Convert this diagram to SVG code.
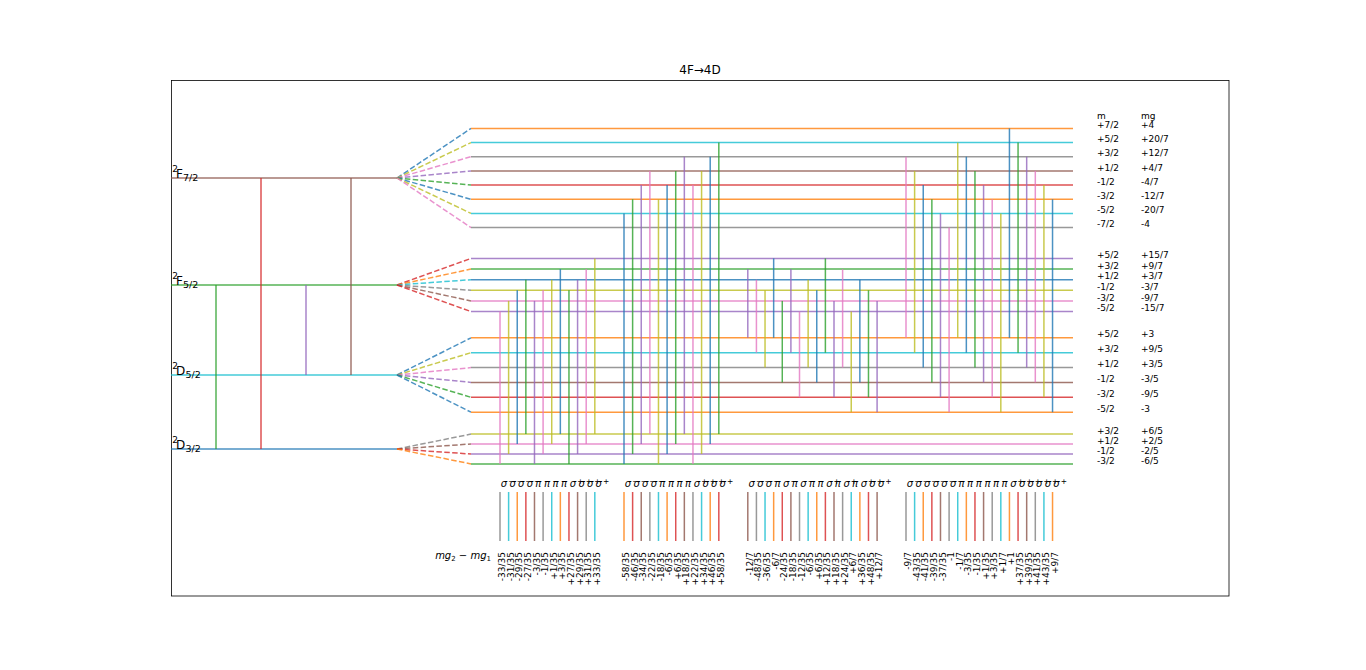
<svg xmlns="http://www.w3.org/2000/svg" width="1366" height="670" viewBox="0 0 1366 670">
<style>
text{font-family:"DejaVu Sans","Liberation Sans",sans-serif;fill:#000}
.t{font-size:12px}
.lab{font-size:9px}
.big{font-size:12px}
.sm{font-size:9px}
.sl{font-size:10px;font-style:italic}
.sup{font-size:7.5px;font-style:normal}
.num{font-size:9px;text-anchor:end}
line{stroke-width:1.5;stroke-opacity:0.8;fill:none}
.d{stroke-dasharray:5.5 2.4}
.c0{stroke:#1f77b4}.c1{stroke:#ff7f0e}.c2{stroke:#2ca02c}.c3{stroke:#d62728}.c4{stroke:#9467bd}
.c5{stroke:#8c564b}.c6{stroke:#e377c2}.c7{stroke:#7f7f7f}.c8{stroke:#bcbd22}.c9{stroke:#17becf}
</style>
<rect x="0" y="0" width="1366" height="670" fill="#fff"/>
<text class="t" x="700" y="74.4" text-anchor="middle">4F→4D</text>
<rect x="171.5" y="80.5" width="1057.5" height="515.5" fill="none" stroke="#000" stroke-width="0.8"/>

<g id="level-F72">
<line class="c5" x1="171" y1="178" x2="397" y2="178"/>
<text class="sm" x="172.3" y="172">2</text><text class="big" x="176" y="178">F</text><text class="sm" x="183" y="180.5" style="font-size:9.5px">7/2</text>
<line class="c0 d" x1="397" y1="178" x2="471" y2="128.4"/>
<line class="c8 d" x1="397" y1="178" x2="471" y2="142.6"/>
<line class="c6 d" x1="397" y1="178" x2="471" y2="156.7"/>
<line class="c4 d" x1="397" y1="178" x2="471" y2="170.9"/>
<line class="c2 d" x1="397" y1="178" x2="471" y2="185.1"/>
<line class="c0 d" x1="397" y1="178" x2="471" y2="199.3"/>
<line class="c8 d" x1="397" y1="178" x2="471" y2="213.4"/>
<line class="c6 d" x1="397" y1="178" x2="471" y2="227.6"/>
<line class="c1" x1="471" y1="128.4" x2="1073" y2="128.4"/>
<line class="c9" x1="471" y1="142.6" x2="1073" y2="142.6"/>
<line class="c7" x1="471" y1="156.7" x2="1073" y2="156.7"/>
<line class="c5" x1="471" y1="170.9" x2="1073" y2="170.9"/>
<line class="c3" x1="471" y1="185.1" x2="1073" y2="185.1"/>
<line class="c1" x1="471" y1="199.3" x2="1073" y2="199.3"/>
<line class="c9" x1="471" y1="213.4" x2="1073" y2="213.4"/>
<line class="c7" x1="471" y1="227.6" x2="1073" y2="227.6"/>
<g class="lab">
<text x="1097" y="119">m</text><text x="1141" y="119">mg</text>
<text x="1097" y="128">+7/2</text><text x="1141" y="128">+4</text>
<text x="1097" y="142.2">+5/2</text><text x="1141" y="142.2">+20/7</text>
<text x="1097" y="156.3">+3/2</text><text x="1141" y="156.3">+12/7</text>
<text x="1097" y="170.5">+1/2</text><text x="1141" y="170.5">+4/7</text>
<text x="1097" y="184.7">-1/2</text><text x="1141" y="184.7">-4/7</text>
<text x="1097" y="198.9">-3/2</text><text x="1141" y="198.9">-12/7</text>
<text x="1097" y="213">-5/2</text><text x="1141" y="213">-20/7</text>
<text x="1097" y="227.2">-7/2</text><text x="1141" y="227.2">-4</text>
</g>
</g>

<g id="level-F52">
<line class="c2" x1="171" y1="285" x2="397" y2="285"/>
<text class="sm" x="172.3" y="279">2</text><text class="big" x="176" y="285">F</text><text class="sm" x="183" y="287.5" style="font-size:9.5px">5/2</text>
<line class="c3 d" x1="397" y1="285" x2="471" y2="258.4"/>
<line class="c1 d" x1="397" y1="285" x2="471" y2="269.1"/>
<line class="c9 d" x1="397" y1="285" x2="471" y2="279.7"/>
<line class="c7 d" x1="397" y1="285" x2="471" y2="290.3"/>
<line class="c5 d" x1="397" y1="285" x2="471" y2="300.9"/>
<line class="c3 d" x1="397" y1="285" x2="471" y2="311.6"/>
<line class="c4" x1="471" y1="258.4" x2="1073" y2="258.4"/>
<line class="c2" x1="471" y1="269.1" x2="1073" y2="269.1"/>
<line class="c0" x1="471" y1="279.7" x2="1073" y2="279.7"/>
<line class="c8" x1="471" y1="290.3" x2="1073" y2="290.3"/>
<line class="c6" x1="471" y1="300.9" x2="1073" y2="300.9"/>
<line class="c4" x1="471" y1="311.6" x2="1073" y2="311.6"/>
<g class="lab">
<text x="1097" y="258">+5/2</text><text x="1141" y="258">+15/7</text>
<text x="1097" y="268.7">+3/2</text><text x="1141" y="268.7">+9/7</text>
<text x="1097" y="279.3">+1/2</text><text x="1141" y="279.3">+3/7</text>
<text x="1097" y="289.9">-1/2</text><text x="1141" y="289.9">-3/7</text>
<text x="1097" y="300.5">-3/2</text><text x="1141" y="300.5">-9/7</text>
<text x="1097" y="311.2">-5/2</text><text x="1141" y="311.2">-15/7</text>
</g>
</g>

<g id="level-D52">
<line class="c9" x1="171" y1="375" x2="397" y2="375"/>
<text class="sm" x="172.3" y="369">2</text><text class="big" x="176" y="375">D</text><text class="sm" x="185.5" y="377.5" style="font-size:9.5px">5/2</text>
<line class="c0 d" x1="397" y1="375" x2="471" y2="337.8"/>
<line class="c8 d" x1="397" y1="375" x2="471" y2="352.7"/>
<line class="c6 d" x1="397" y1="375" x2="471" y2="367.6"/>
<line class="c4 d" x1="397" y1="375" x2="471" y2="382.4"/>
<line class="c2 d" x1="397" y1="375" x2="471" y2="397.3"/>
<line class="c0 d" x1="397" y1="375" x2="471" y2="412.2"/>
<line class="c1" x1="471" y1="337.8" x2="1073" y2="337.8"/>
<line class="c9" x1="471" y1="352.7" x2="1073" y2="352.7"/>
<line class="c7" x1="471" y1="367.6" x2="1073" y2="367.6"/>
<line class="c5" x1="471" y1="382.4" x2="1073" y2="382.4"/>
<line class="c3" x1="471" y1="397.3" x2="1073" y2="397.3"/>
<line class="c1" x1="471" y1="412.2" x2="1073" y2="412.2"/>
<g class="lab">
<text x="1097" y="337.4">+5/2</text><text x="1141" y="337.4">+3</text>
<text x="1097" y="352.3">+3/2</text><text x="1141" y="352.3">+9/5</text>
<text x="1097" y="367.2">+1/2</text><text x="1141" y="367.2">+3/5</text>
<text x="1097" y="382">-1/2</text><text x="1141" y="382">-3/5</text>
<text x="1097" y="396.9">-3/2</text><text x="1141" y="396.9">-9/5</text>
<text x="1097" y="411.8">-5/2</text><text x="1141" y="411.8">-3</text>
</g>
</g>

<g id="level-D32">
<line class="c0" x1="171" y1="449" x2="397" y2="449"/>
<text class="sm" x="172.3" y="443">2</text><text class="big" x="176" y="449">D</text><text class="sm" x="185.5" y="451.5" style="font-size:9.5px">3/2</text>
<line class="c7 d" x1="397" y1="449" x2="471" y2="434.1"/>
<line class="c5 d" x1="397" y1="449" x2="471" y2="444"/>
<line class="c3 d" x1="397" y1="449" x2="471" y2="454"/>
<line class="c1 d" x1="397" y1="449" x2="471" y2="463.9"/>
<line class="c8" x1="471" y1="434.1" x2="1073" y2="434.1"/>
<line class="c6" x1="471" y1="444" x2="1073" y2="444"/>
<line class="c4" x1="471" y1="454" x2="1073" y2="454"/>
<line class="c2" x1="471" y1="463.9" x2="1073" y2="463.9"/>
<g class="lab">
<text x="1097" y="433.7">+3/2</text><text x="1141" y="433.7">+6/5</text>
<text x="1097" y="443.6">+1/2</text><text x="1141" y="443.6">+2/5</text>
<text x="1097" y="453.6">-1/2</text><text x="1141" y="453.6">-2/5</text>
<text x="1097" y="463.5">-3/2</text><text x="1141" y="463.5">-6/5</text>
</g>
</g>

<g id="connectors">
<g id="fine-transitions-left">
<line class="c2" x1="216" y1="285" x2="216" y2="449"/>
<line class="c3" x1="261" y1="178" x2="261" y2="449"/>
<line class="c4" x1="306" y1="285" x2="306" y2="375"/>
<line class="c5" x1="351" y1="178" x2="351" y2="375"/>
</g>
<g id="group1">
<line class="c6" x1="500" y1="311.6" x2="500" y2="463.9"/>
<line class="c8" x1="508.62" y1="300.9" x2="508.62" y2="454"/>
<line class="c0" x1="517.24" y1="290.3" x2="517.24" y2="444"/>
<line class="c2" x1="525.86" y1="279.7" x2="525.86" y2="434.1"/>
<line class="c4" x1="534.48" y1="300.9" x2="534.48" y2="463.9"/>
<line class="c6" x1="543.1" y1="290.3" x2="543.1" y2="454"/>
<line class="c8" x1="551.72" y1="279.7" x2="551.72" y2="444"/>
<line class="c0" x1="560.34" y1="269.1" x2="560.34" y2="434.1"/>
<line class="c2" x1="568.96" y1="290.3" x2="568.96" y2="463.9"/>
<line class="c4" x1="577.58" y1="279.7" x2="577.58" y2="454"/>
<line class="c6" x1="586.2" y1="269.1" x2="586.2" y2="444"/>
<line class="c8" x1="594.82" y1="258.4" x2="594.82" y2="434.1"/>
</g>
<g id="group2">
<line class="c0" x1="624" y1="213.4" x2="624" y2="463.9"/>
<line class="c2" x1="632.62" y1="199.3" x2="632.62" y2="454"/>
<line class="c4" x1="641.24" y1="185.1" x2="641.24" y2="444"/>
<line class="c6" x1="649.86" y1="170.9" x2="649.86" y2="434.1"/>
<line class="c8" x1="658.48" y1="199.3" x2="658.48" y2="463.9"/>
<line class="c0" x1="667.1" y1="185.1" x2="667.1" y2="454"/>
<line class="c2" x1="675.72" y1="170.9" x2="675.72" y2="444"/>
<line class="c4" x1="684.34" y1="156.7" x2="684.34" y2="434.1"/>
<line class="c6" x1="692.96" y1="185.1" x2="692.96" y2="463.9"/>
<line class="c8" x1="701.58" y1="170.9" x2="701.58" y2="454"/>
<line class="c0" x1="710.2" y1="156.7" x2="710.2" y2="444"/>
<line class="c2" x1="718.82" y1="142.6" x2="718.82" y2="434.1"/>
</g>
<g id="group3">
<line class="c4" x1="747.8" y1="269.1" x2="747.8" y2="337.8"/>
<line class="c6" x1="756.42" y1="279.7" x2="756.42" y2="352.7"/>
<line class="c8" x1="765.04" y1="290.3" x2="765.04" y2="367.6"/>
<line class="c0" x1="773.66" y1="258.4" x2="773.66" y2="337.8"/>
<line class="c2" x1="782.28" y1="300.9" x2="782.28" y2="382.4"/>
<line class="c4" x1="790.9" y1="269.1" x2="790.9" y2="352.7"/>
<line class="c6" x1="799.52" y1="311.6" x2="799.52" y2="397.3"/>
<line class="c8" x1="808.14" y1="279.7" x2="808.14" y2="367.6"/>
<line class="c0" x1="816.76" y1="290.3" x2="816.76" y2="382.4"/>
<line class="c2" x1="825.38" y1="258.4" x2="825.38" y2="352.7"/>
<line class="c4" x1="834" y1="300.9" x2="834" y2="397.3"/>
<line class="c6" x1="842.62" y1="269.1" x2="842.62" y2="367.6"/>
<line class="c8" x1="851.24" y1="311.6" x2="851.24" y2="412.2"/>
<line class="c0" x1="859.86" y1="279.7" x2="859.86" y2="382.4"/>
<line class="c2" x1="868.48" y1="290.3" x2="868.48" y2="397.3"/>
<line class="c4" x1="877.1" y1="300.9" x2="877.1" y2="412.2"/>
</g>
<g id="group4">
<line class="c6" x1="906" y1="156.7" x2="906" y2="337.8"/>
<line class="c8" x1="914.62" y1="170.9" x2="914.62" y2="352.7"/>
<line class="c0" x1="923.24" y1="185.1" x2="923.24" y2="367.6"/>
<line class="c2" x1="931.86" y1="199.3" x2="931.86" y2="382.4"/>
<line class="c4" x1="940.48" y1="213.4" x2="940.48" y2="397.3"/>
<line class="c6" x1="949.1" y1="227.6" x2="949.1" y2="412.2"/>
<line class="c8" x1="957.72" y1="142.6" x2="957.72" y2="337.8"/>
<line class="c0" x1="966.34" y1="156.7" x2="966.34" y2="352.7"/>
<line class="c2" x1="974.96" y1="170.9" x2="974.96" y2="367.6"/>
<line class="c4" x1="983.58" y1="185.1" x2="983.58" y2="382.4"/>
<line class="c6" x1="992.2" y1="199.3" x2="992.2" y2="397.3"/>
<line class="c8" x1="1000.82" y1="213.4" x2="1000.82" y2="412.2"/>
<line class="c0" x1="1009.44" y1="128.4" x2="1009.44" y2="337.8"/>
<line class="c2" x1="1018.06" y1="142.6" x2="1018.06" y2="352.7"/>
<line class="c4" x1="1026.68" y1="156.7" x2="1026.68" y2="367.6"/>
<line class="c6" x1="1035.3" y1="170.9" x2="1035.3" y2="382.4"/>
<line class="c8" x1="1043.92" y1="185.1" x2="1043.92" y2="397.3"/>
<line class="c0" x1="1052.54" y1="199.3" x2="1052.54" y2="412.2"/>
</g>
</g>

<g id="spectrum-ticks">
<line class="c7" x1="500" y1="492" x2="500" y2="541"/>
<line class="c9" x1="508.62" y1="492" x2="508.62" y2="541"/>
<line class="c1" x1="517.24" y1="492" x2="517.24" y2="541"/>
<line class="c3" x1="525.86" y1="492" x2="525.86" y2="541"/>
<line class="c5" x1="534.48" y1="492" x2="534.48" y2="541"/>
<line class="c7" x1="543.1" y1="492" x2="543.1" y2="541"/>
<line class="c9" x1="551.72" y1="492" x2="551.72" y2="541"/>
<line class="c1" x1="560.34" y1="492" x2="560.34" y2="541"/>
<line class="c3" x1="568.96" y1="492" x2="568.96" y2="541"/>
<line class="c5" x1="577.58" y1="492" x2="577.58" y2="541"/>
<line class="c7" x1="586.2" y1="492" x2="586.2" y2="541"/>
<line class="c9" x1="594.82" y1="492" x2="594.82" y2="541"/>
<line class="c1" x1="624" y1="492" x2="624" y2="541"/>
<line class="c3" x1="632.62" y1="492" x2="632.62" y2="541"/>
<line class="c5" x1="641.24" y1="492" x2="641.24" y2="541"/>
<line class="c7" x1="649.86" y1="492" x2="649.86" y2="541"/>
<line class="c9" x1="658.48" y1="492" x2="658.48" y2="541"/>
<line class="c1" x1="667.1" y1="492" x2="667.1" y2="541"/>
<line class="c3" x1="675.72" y1="492" x2="675.72" y2="541"/>
<line class="c5" x1="684.34" y1="492" x2="684.34" y2="541"/>
<line class="c7" x1="692.96" y1="492" x2="692.96" y2="541"/>
<line class="c9" x1="701.58" y1="492" x2="701.58" y2="541"/>
<line class="c1" x1="710.2" y1="492" x2="710.2" y2="541"/>
<line class="c3" x1="718.82" y1="492" x2="718.82" y2="541"/>
<line class="c5" x1="747.8" y1="492" x2="747.8" y2="541"/>
<line class="c7" x1="756.42" y1="492" x2="756.42" y2="541"/>
<line class="c9" x1="765.04" y1="492" x2="765.04" y2="541"/>
<line class="c1" x1="773.66" y1="492" x2="773.66" y2="541"/>
<line class="c3" x1="782.28" y1="492" x2="782.28" y2="541"/>
<line class="c5" x1="790.9" y1="492" x2="790.9" y2="541"/>
<line class="c7" x1="799.52" y1="492" x2="799.52" y2="541"/>
<line class="c9" x1="808.14" y1="492" x2="808.14" y2="541"/>
<line class="c1" x1="816.76" y1="492" x2="816.76" y2="541"/>
<line class="c3" x1="825.38" y1="492" x2="825.38" y2="541"/>
<line class="c5" x1="834" y1="492" x2="834" y2="541"/>
<line class="c7" x1="842.62" y1="492" x2="842.62" y2="541"/>
<line class="c9" x1="851.24" y1="492" x2="851.24" y2="541"/>
<line class="c1" x1="859.86" y1="492" x2="859.86" y2="541"/>
<line class="c3" x1="868.48" y1="492" x2="868.48" y2="541"/>
<line class="c5" x1="877.1" y1="492" x2="877.1" y2="541"/>
<line class="c7" x1="906" y1="492" x2="906" y2="541"/>
<line class="c9" x1="914.62" y1="492" x2="914.62" y2="541"/>
<line class="c1" x1="923.24" y1="492" x2="923.24" y2="541"/>
<line class="c3" x1="931.86" y1="492" x2="931.86" y2="541"/>
<line class="c5" x1="940.48" y1="492" x2="940.48" y2="541"/>
<line class="c7" x1="949.1" y1="492" x2="949.1" y2="541"/>
<line class="c9" x1="957.72" y1="492" x2="957.72" y2="541"/>
<line class="c1" x1="966.34" y1="492" x2="966.34" y2="541"/>
<line class="c3" x1="974.96" y1="492" x2="974.96" y2="541"/>
<line class="c5" x1="983.58" y1="492" x2="983.58" y2="541"/>
<line class="c7" x1="992.2" y1="492" x2="992.2" y2="541"/>
<line class="c9" x1="1000.82" y1="492" x2="1000.82" y2="541"/>
<line class="c1" x1="1009.44" y1="492" x2="1009.44" y2="541"/>
<line class="c3" x1="1018.06" y1="492" x2="1018.06" y2="541"/>
<line class="c5" x1="1026.68" y1="492" x2="1026.68" y2="541"/>
<line class="c7" x1="1035.3" y1="492" x2="1035.3" y2="541"/>
<line class="c9" x1="1043.92" y1="492" x2="1043.92" y2="541"/>
<line class="c1" x1="1052.54" y1="492" x2="1052.54" y2="541"/>
</g>

<g id="polarisation-labels" class="sl">
<text x="500.8" y="487">σ<tspan class="sup" dx="1" dy="-3.2">−</tspan></text>
<text x="509.4" y="487">σ<tspan class="sup" dx="1" dy="-3.2">−</tspan></text>
<text x="518" y="487">σ<tspan class="sup" dx="1" dy="-3.2">−</tspan></text>
<text x="526.7" y="487">σ<tspan class="sup" dx="1" dy="-3.2">−</tspan></text>
<text x="535.3" y="487">π</text>
<text x="543.9" y="487">π</text>
<text x="552.5" y="487">π</text>
<text x="561.1" y="487">π</text>
<text x="569.8" y="487">σ<tspan class="sup" dx="1" dy="-3.2">+</tspan></text>
<text x="578.4" y="487">σ<tspan class="sup" dx="1" dy="-3.2">+</tspan></text>
<text x="587" y="487">σ<tspan class="sup" dx="1" dy="-3.2">+</tspan></text>
<text x="595.6" y="487">σ<tspan class="sup" dx="1" dy="-3.2">+</tspan></text>
<text x="624.8" y="487">σ<tspan class="sup" dx="1" dy="-3.2">−</tspan></text>
<text x="633.4" y="487">σ<tspan class="sup" dx="1" dy="-3.2">−</tspan></text>
<text x="642" y="487">σ<tspan class="sup" dx="1" dy="-3.2">−</tspan></text>
<text x="650.7" y="487">σ<tspan class="sup" dx="1" dy="-3.2">−</tspan></text>
<text x="659.3" y="487">π</text>
<text x="667.9" y="487">π</text>
<text x="676.5" y="487">π</text>
<text x="685.1" y="487">π</text>
<text x="693.8" y="487">σ<tspan class="sup" dx="1" dy="-3.2">+</tspan></text>
<text x="702.4" y="487">σ<tspan class="sup" dx="1" dy="-3.2">+</tspan></text>
<text x="711" y="487">σ<tspan class="sup" dx="1" dy="-3.2">+</tspan></text>
<text x="719.6" y="487">σ<tspan class="sup" dx="1" dy="-3.2">+</tspan></text>
<text x="748.6" y="487">σ<tspan class="sup" dx="1" dy="-3.2">−</tspan></text>
<text x="757.2" y="487">σ<tspan class="sup" dx="1" dy="-3.2">−</tspan></text>
<text x="765.8" y="487">σ<tspan class="sup" dx="1" dy="-3.2">−</tspan></text>
<text x="774.5" y="487">π</text>
<text x="783.1" y="487">σ<tspan class="sup" dx="1" dy="-3.2">−</tspan></text>
<text x="791.7" y="487">π</text>
<text x="800.3" y="487">σ<tspan class="sup" dx="1" dy="-3.2">−</tspan></text>
<text x="808.9" y="487">π</text>
<text x="817.6" y="487">π</text>
<text x="826.2" y="487">σ<tspan class="sup" dx="1" dy="-3.2">+</tspan></text>
<text x="834.8" y="487">π</text>
<text x="843.4" y="487">σ<tspan class="sup" dx="1" dy="-3.2">+</tspan></text>
<text x="852" y="487">π</text>
<text x="860.7" y="487">σ<tspan class="sup" dx="1" dy="-3.2">+</tspan></text>
<text x="869.3" y="487">σ<tspan class="sup" dx="1" dy="-3.2">+</tspan></text>
<text x="877.9" y="487">σ<tspan class="sup" dx="1" dy="-3.2">+</tspan></text>
<text x="906.8" y="487">σ<tspan class="sup" dx="1" dy="-3.2">−</tspan></text>
<text x="915.4" y="487">σ<tspan class="sup" dx="1" dy="-3.2">−</tspan></text>
<text x="924" y="487">σ<tspan class="sup" dx="1" dy="-3.2">−</tspan></text>
<text x="932.7" y="487">σ<tspan class="sup" dx="1" dy="-3.2">−</tspan></text>
<text x="941.3" y="487">σ<tspan class="sup" dx="1" dy="-3.2">−</tspan></text>
<text x="949.9" y="487">σ<tspan class="sup" dx="1" dy="-3.2">−</tspan></text>
<text x="958.5" y="487">π</text>
<text x="967.1" y="487">π</text>
<text x="975.8" y="487">π</text>
<text x="984.4" y="487">π</text>
<text x="993" y="487">π</text>
<text x="1001.6" y="487">π</text>
<text x="1010.2" y="487">σ<tspan class="sup" dx="1" dy="-3.2">+</tspan></text>
<text x="1018.9" y="487">σ<tspan class="sup" dx="1" dy="-3.2">+</tspan></text>
<text x="1027.5" y="487">σ<tspan class="sup" dx="1" dy="-3.2">+</tspan></text>
<text x="1036.1" y="487">σ<tspan class="sup" dx="1" dy="-3.2">+</tspan></text>
<text x="1044.7" y="487">σ<tspan class="sup" dx="1" dy="-3.2">+</tspan></text>
<text x="1053.3" y="487">σ<tspan class="sup" dx="1" dy="-3.2">+</tspan></text>
</g>

<text class="sl" x="491" y="558.5" text-anchor="end">mg<tspan style="font-size:7px;font-style:normal" dy="2">2</tspan><tspan style="font-style:normal" dy="-2"> − </tspan>mg<tspan style="font-size:7px;font-style:normal" dy="2">1</tspan></text>

<g id="shift-values" class="num">
<text transform="translate(505,552) rotate(-90)">-33/35</text>
<text transform="translate(513.6,552) rotate(-90)">-31/35</text>
<text transform="translate(522.2,552) rotate(-90)">-29/35</text>
<text transform="translate(530.9,552) rotate(-90)">-27/35</text>
<text transform="translate(539.5,552) rotate(-90)">-3/35</text>
<text transform="translate(548.1,552) rotate(-90)">-1/35</text>
<text transform="translate(556.7,552) rotate(-90)">+1/35</text>
<text transform="translate(565.3,552) rotate(-90)">+3/35</text>
<text transform="translate(574,552) rotate(-90)">+27/35</text>
<text transform="translate(582.6,552) rotate(-90)">+29/35</text>
<text transform="translate(591.2,552) rotate(-90)">+31/35</text>
<text transform="translate(599.8,552) rotate(-90)">+33/35</text>
<text transform="translate(629,552) rotate(-90)">-58/35</text>
<text transform="translate(637.6,552) rotate(-90)">-46/35</text>
<text transform="translate(646.2,552) rotate(-90)">-34/35</text>
<text transform="translate(654.9,552) rotate(-90)">-22/35</text>
<text transform="translate(663.5,552) rotate(-90)">-18/35</text>
<text transform="translate(672.1,552) rotate(-90)">-6/35</text>
<text transform="translate(680.7,552) rotate(-90)">+6/35</text>
<text transform="translate(689.3,552) rotate(-90)">+18/35</text>
<text transform="translate(698,552) rotate(-90)">+22/35</text>
<text transform="translate(706.6,552) rotate(-90)">+34/35</text>
<text transform="translate(715.2,552) rotate(-90)">+46/35</text>
<text transform="translate(723.8,552) rotate(-90)">+58/35</text>
<text transform="translate(752.8,552) rotate(-90)">-12/7</text>
<text transform="translate(761.4,552) rotate(-90)">-48/35</text>
<text transform="translate(770,552) rotate(-90)">-36/35</text>
<text transform="translate(778.7,552) rotate(-90)">-6/7</text>
<text transform="translate(787.3,552) rotate(-90)">-24/35</text>
<text transform="translate(795.9,552) rotate(-90)">-18/35</text>
<text transform="translate(804.5,552) rotate(-90)">-12/35</text>
<text transform="translate(813.1,552) rotate(-90)">-6/35</text>
<text transform="translate(821.8,552) rotate(-90)">+6/35</text>
<text transform="translate(830.4,552) rotate(-90)">+12/35</text>
<text transform="translate(839,552) rotate(-90)">+18/35</text>
<text transform="translate(847.6,552) rotate(-90)">+24/35</text>
<text transform="translate(856.2,552) rotate(-90)">+6/7</text>
<text transform="translate(864.9,552) rotate(-90)">+36/35</text>
<text transform="translate(873.5,552) rotate(-90)">+48/35</text>
<text transform="translate(882.1,552) rotate(-90)">+12/7</text>
<text transform="translate(911,552) rotate(-90)">-9/7</text>
<text transform="translate(919.6,552) rotate(-90)">-43/35</text>
<text transform="translate(928.2,552) rotate(-90)">-41/35</text>
<text transform="translate(936.9,552) rotate(-90)">-39/35</text>
<text transform="translate(945.5,552) rotate(-90)">-37/35</text>
<text transform="translate(954.1,552) rotate(-90)">-1</text>
<text transform="translate(962.7,552) rotate(-90)">-1/7</text>
<text transform="translate(971.3,552) rotate(-90)">-3/35</text>
<text transform="translate(980,552) rotate(-90)">-1/35</text>
<text transform="translate(988.6,552) rotate(-90)">+1/35</text>
<text transform="translate(997.2,552) rotate(-90)">+3/35</text>
<text transform="translate(1005.8,552) rotate(-90)">+1/7</text>
<text transform="translate(1014.4,552) rotate(-90)">+1</text>
<text transform="translate(1023.1,552) rotate(-90)">+37/35</text>
<text transform="translate(1031.7,552) rotate(-90)">+39/35</text>
<text transform="translate(1040.3,552) rotate(-90)">+41/35</text>
<text transform="translate(1048.9,552) rotate(-90)">+43/35</text>
<text transform="translate(1057.5,552) rotate(-90)">+9/7</text>
</g>
</svg>
